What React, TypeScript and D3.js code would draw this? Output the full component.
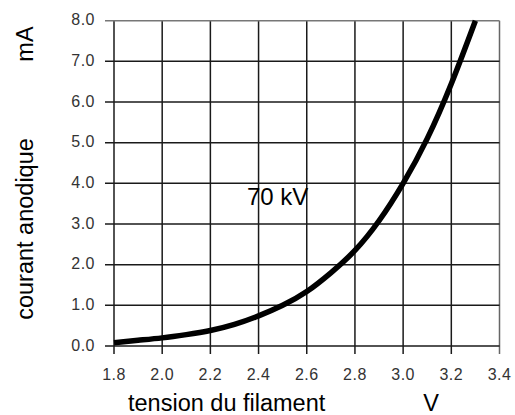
import React, { useEffect, useRef } from 'react';
import * as d3 from 'd3';

// filament voltage (V) and anode current (mA)
const voltage = [1.8, 1.9, 2.0, 2.1, 2.2, 2.3, 2.4, 2.5, 2.6, 2.7, 2.8, 2.9, 3.0, 3.1, 3.2, 3.3];
const current = [0.08, 0.14, 0.2, 0.28, 0.38, 0.53, 0.74, 1.0, 1.34, 1.8, 2.35, 3.08, 4.0, 5.1, 6.45, 8.0];

const xTicks = [1.8, 2.0, 2.2, 2.4, 2.6, 2.8, 3.0, 3.2, 3.4];
const yTicks = [0, 1, 2, 3, 4, 5, 6, 7, 8];

const curveLabel = '70 kV';
const xTitle = 'tension du filament';
const xUnit = 'V';
const yTitle = 'courant anodique';
const yUnit = 'mA';

const App = () => {
  const ref = useRef<SVGSVGElement>(null);

  useEffect(() => {
    const svg = d3.select(ref.current);
    svg.selectAll('*').remove();

    const x = d3.scaleLinear().domain([1.8, 3.4]).range([114, 499.5]);
    const y = d3.scaleLinear().domain([0, 8]).range([346, 20.7]);
    const font = 'Arial, "Liberation Sans", sans-serif';

    svg.append('rect').attr('width', 515).attr('height', 415).attr('fill', 'white');

    // grid, ticks stick out left and below
    const grid = svg.append('g');
    grid.selectAll('line.v')
      .data(xTicks)
      .join('line')
        .attr('x1', d => x(d)).attr('x2', d => x(d))
        .attr('y1', y(8)).attr('y2', y(0) + 8)
        .attr('stroke', (d, i) => (i === xTicks.length - 1 ? '#666' : '#1a1a1a'))
        .attr('stroke-width', 1.5);
    grid.selectAll('line.h')
      .data(yTicks)
      .join('line')
        .attr('y1', d => y(d)).attr('y2', d => y(d))
        .attr('x1', x(1.8) - 9).attr('x2', x(3.4))
        .attr('stroke', (d, i) => (i === yTicks.length - 1 ? '#777' : '#1a1a1a'))
        .attr('stroke-width', 1.5);

    // tick labels
    svg.append('g')
      .selectAll('text')
      .data(xTicks)
      .join('text')
        .attr('x', d => x(d))
        .attr('y', 380)
        .attr('text-anchor', 'middle')
        .attr('font-family', font)
        .attr('font-size', 16)
        .attr('letter-spacing', 0.5)
        .attr('fill', '#333')
        .text(d => d.toFixed(1));
    svg.append('g')
      .selectAll('text')
      .data(yTicks)
      .join('text')
        .attr('x', 95)
        .attr('y', d => y(d) + 4.5)
        .attr('text-anchor', 'end')
        .attr('font-family', font)
        .attr('font-size', 16)
        .attr('letter-spacing', 0.5)
        .attr('fill', '#333')
        .text(d => d.toFixed(1));

    // curve
    const line = d3.line<number>()
      .x((d, i) => x(voltage[i]))
      .y(d => y(d))
      .curve(d3.curveNatural);
    svg.append('path')
      .attr('d', line(current))
      .attr('fill', 'none')
      .attr('stroke', 'black')
      .attr('stroke-width', 5.5);

    svg.append('text')
      .attr('x', 247).attr('y', 205)
      .attr('font-family', font).attr('font-size', 24)
      .text(curveLabel);
    svg.append('text')
      .attr('x', 128).attr('y', 411)
      .attr('font-family', font).attr('font-size', 23.5)
      .text(xTitle);
    svg.append('text')
      .attr('x', 431).attr('y', 411)
      .attr('text-anchor', 'middle')
      .attr('font-family', font).attr('font-size', 23.5)
      .text(xUnit);
    svg.append('text')
      .attr('transform', 'translate(33,229) rotate(-90)')
      .attr('text-anchor', 'middle')
      .attr('font-family', font).attr('font-size', 23.5)
      .text(yTitle);
    svg.append('text')
      .attr('transform', 'translate(33,44) rotate(-90)')
      .attr('text-anchor', 'middle')
      .attr('font-family', font).attr('font-size', 23.5)
      .text(yUnit);
  }, []);

  return (
    <svg ref={ref} width={515} height={415} style={{ position: 'absolute', left: 0, top: 0 }}></svg>
  );
};

export default App;
